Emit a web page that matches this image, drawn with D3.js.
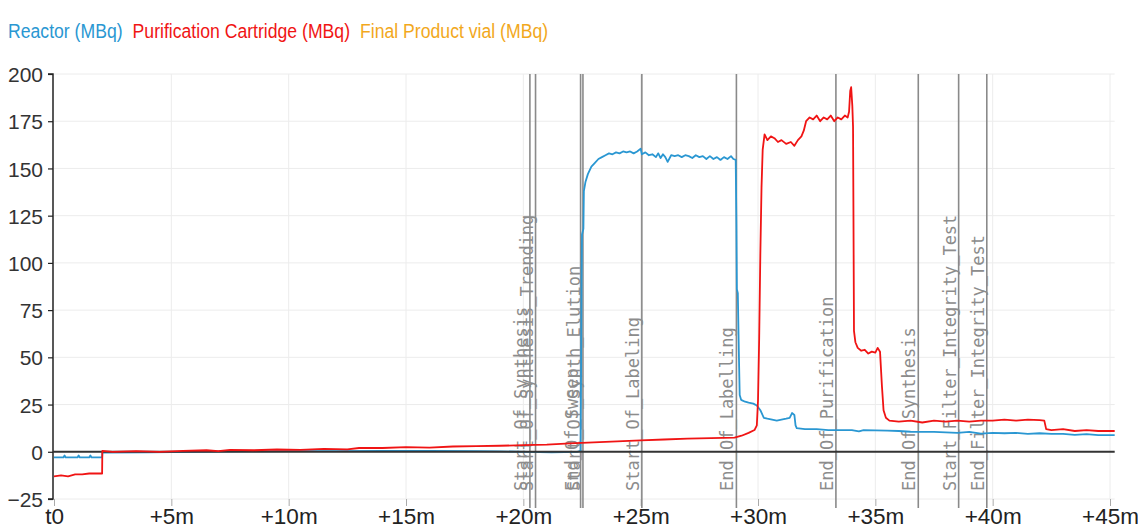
<!DOCTYPE html>
<html>
<head>
<meta charset="utf-8">
<script src="https://cdn.jsdelivr.net/npm/d3@7/dist/d3.min.js"></script>
<style>
html,body{margin:0;padding:0;background:#fff;}
svg{display:block;}
</style>
</head>
<body>
<svg id="chart" width="1138" height="528"></svg>
<script>
// ---------- data ----------
const seriesNames = ["Reactor (MBq)", "Purification Cartridge (MBq)", "Final Product vial (MBq)"];
const seriesColors = ["#2a97d2", "#f01414", "#f2a81c"];

const yTicks = [-25, 0, 25, 50, 75, 100, 125, 150, 175, 200];
const xTicks = [0, 5, 10, 15, 20, 25, 30, 35, 40, 45];
const xTickLabels = ["t0", "+5m", "+10m", "+15m", "+20m", "+25m", "+30m", "+35m", "+40m", "+45m"];

// events: [minutes, label]
const events = [
  [20.28, "Start_Of_Synthesis"],
  [20.52, "Start_Of_Synthesis_Trending"],
  [22.44, "End_Of_Sweep"],
  [22.54, "Start_Of_Synth_Elution"],
  [25.05, "Start_Of_Labeling"],
  [29.08, "End_Of_Labelling"],
  [33.32, "End_Of_Purification"],
  [36.83, "End_Of_Synthesis"],
  [38.55, "Start_Filter_Integrity_Test"],
  [39.75, "End_Filter_Integrity_Test"]
];

// Reactor (MBq): [minutes, MBq]
const reactor = [
  [0,-3],[0.4,-3],[0.45,-2],[0.5,-3],[1.0,-3],[1.05,-2],[1.1,-3],[1.5,-3],[1.55,-2],[1.6,-3],[2.05,-3],
  [2.06,-0.5],[4,-0.3],[6,0],[8,0.2],[10,0.3],[12,0.3],[14,0.5],[16,0.5],[18,0.3],[19,0.2],[20.2,0],[21.2,-0.3],[22.3,0],
  [22.44,0.5],[22.46,40],[22.48,90],[22.5,115],[22.56,118],[22.58,138],[22.65,143],[22.75,147],[22.9,151],[23.05,153],
  [23.2,155],[23.35,156],[23.5,157],[23.65,158],[23.8,157.5],[23.95,158.5],[24.1,158],[24.25,159],[24.4,158.5],[24.55,159],
  [24.7,158],[24.85,159],[25.0,160.5],[25.05,157.5],[25.2,158.5],[25.35,157],[25.5,157.5],[25.65,156],[25.75,158],[25.85,155.5],
  [25.95,157.5],[26.05,156],[26.15,153.5],[26.3,157],[26.45,156.5],[26.6,157],[26.75,156],[26.9,157],[27.05,156.5],[27.2,155.5],
  [27.35,157],[27.5,156],[27.65,156.5],[27.8,155],[27.95,156.5],[28.1,155],[28.25,156],[28.4,154.5],[28.55,156],[28.7,155],
  [28.85,156.5],[28.95,155],[29.05,154.5],[29.08,120],[29.1,86],[29.14,84],[29.18,55],[29.22,30],[29.28,27.5],[29.45,26.5],
  [29.6,26],[29.8,25.5],[29.95,24.5],[30.1,22],[30.25,18],[30.4,17.5],[30.6,17],[30.8,16.5],[31.0,17],[31.2,17.5],[31.35,18],
  [31.45,20.5],[31.55,19.5],[31.6,14],[31.65,12.5],[32.0,12],[32.5,12],[33.0,11.5],[33.5,11.5],[34.0,11.5],[34.3,10.8],[34.5,11.5],
  [35,11.3],[35.5,11.2],[36,11],[36.5,10.6],[37,10.5],[37.5,10.5],[38,10.3],[38.5,10],[39,10.5],[39.5,9.6],[40,10],[40.5,9.8],
  [41,10],[41.5,9.5],[42,9.8],[42.5,9.5],[43,9.5],[43.5,9],[44,9.3],[44.5,8.8],[45.2,8.8]
];

// Purification Cartridge (MBq): [minutes, MBq]
const cartridge = [
  [0,-13],[0.3,-12.5],[0.6,-13],[0.9,-12],[1.2,-12],[1.5,-11.5],[1.8,-11.5],[2.05,-11.5],
  [2.06,0.5],[2.5,0],[3.5,0.3],[4.5,0],[5.5,0.5],[6.5,0.8],[7,0.3],[7.5,1],[8.5,0.8],[9.5,1.2],[10.5,1],[11.5,1.5],[12.5,1.3],
  [13,2],[14,2],[15,2.5],[16,2.2],[17,2.8],[18,3],[19,3.2],[20,3.5],[21,3.8],[22,4.5],[23,5],[24,5.5],[25,6],[26,6.5],[27,7],
  [28,7.2],[29,7.5],[29.3,8.5],[29.6,10],[29.85,11.5],[29.95,14],[30.0,27],[30.05,60],[30.1,105],[30.15,140],[30.2,160],
  [30.28,168],[30.4,165],[30.55,167],[30.7,166],[30.85,164],[31.0,165],[31.2,163],[31.4,164],[31.55,162],[31.7,165],[31.85,167],
  [31.95,170],[32.05,175],[32.2,177],[32.35,176],[32.5,178],[32.65,175],[32.8,177],[32.95,176],[33.1,178],[33.25,175],[33.4,177],
  [33.55,176],[33.7,178],[33.82,177],[33.88,180],[33.93,191],[33.97,193],[34.02,183],[34.05,172],[34.07,120],[34.09,64],
  [34.15,58],[34.25,55],[34.4,53.5],[34.55,54],[34.7,52],[34.85,53],[35.0,52.5],[35.1,55],[35.2,53],[35.28,35],[35.35,22],
  [35.45,18],[35.6,16.5],[36,16],[36.5,16.5],[37,15.5],[37.5,16.5],[38,16],[38.5,16.5],[39,16],[39.5,16.5],[40,16.5],[40.5,17],
  [41,16.5],[41.5,17],[42,16.8],[42.2,16.5],[42.28,12],[42.5,11.5],[43,12],[43.5,11],[44,11.5],[44.5,11],[45.2,11]
];

// Final Product vial (MBq): no visible trace in the reference
const finalVial = [];

// ---------- drawing ----------
const svg = d3.select("#chart");
const x = d3.scaleLinear().domain([0, 45]).range([54, 1110]);
const y = d3.scaleLinear().domain([-25, 200]).range([499, 74]);
const xEnd = x(45.2);

// legend
const legend = svg.append("g");
let lx = 8;
seriesNames.forEach((name, i) => {
  const g = legend.append("g").attr("transform", `translate(${lx},38) scale(0.84,1)`);
  const t = g.append("text")
    .attr("font-family", "Liberation Sans, Arial, sans-serif")
    .attr("font-size", 21)
    .attr("fill", seriesColors[i])
    .text(name);
  const w = t.node().getComputedTextLength() * 0.84;
  lx += w + 10;
});

// grid
const grid = svg.append("g");
grid.selectAll("line.h").data(yTicks).enter().append("line")
  .attr("x1", x(0)).attr("x2", xEnd)
  .attr("y1", d => y(d)).attr("y2", d => y(d))
  .attr("stroke", "#ececec").attr("stroke-width", 1);
grid.selectAll("line.v").data(xTicks.slice(1)).enter().append("line")
  .attr("x1", d => x(d)).attr("x2", d => x(d))
  .attr("y1", y(200)).attr("y2", y(-25))
  .attr("stroke", "#ececec").attr("stroke-width", 1);

// y axis
const yAxis = d3.axisLeft(y).tickValues(yTicks).tickSize(5).tickPadding(5);
const yg = svg.append("g").attr("transform", `translate(${x(0) - 1},0)`).call(yAxis);
yg.select(".domain").attr("stroke", "#222").attr("stroke-width", 1.5).attr("d", `M-5,${y(200)}H0V${y(-25)}H-5`);
yg.selectAll(".tick line").attr("stroke", "#222").attr("stroke-width", 1.2);
yg.selectAll(".tick text")
  .attr("font-family", "Liberation Sans, Arial, sans-serif")
  .attr("font-size", 21).attr("fill", "#333").attr("dy", "0.36em");

// x axis (labels + small ticks)
const xAxis = d3.axisBottom(x).tickValues(xTicks).tickFormat((d, i) => xTickLabels[i]).tickSize(7).tickPadding(2);
const xg = svg.append("g").attr("transform", `translate(0,${y(-25)})`).call(xAxis);
xg.select(".domain").remove();
xg.selectAll(".tick line").attr("stroke", "#aaa").attr("stroke-width", 1);
xg.selectAll(".tick text")
  .attr("font-family", "Liberation Sans, Arial, sans-serif")
  .attr("font-size", 22.5).attr("fill", "#222").attr("dy", "0.72em");

// event lines and labels
const ev = svg.append("g");
ev.selectAll("line").data(events).enter().append("line")
  .attr("x1", d => x(d[0])).attr("x2", d => x(d[0]))
  .attr("y1", y(200)).attr("y2", y(-25) + 9)
  .attr("stroke", "#8a8a8a").attr("stroke-width", 1.6);
ev.selectAll("text").data(events).enter().append("text")
  .attr("transform", d => `translate(${x(d[0]) - 3},491) rotate(-90)`)
  .attr("font-family", "DejaVu Sans Mono, monospace")
  .attr("font-size", 17)
  .attr("fill", "#8c8c8c")
  .text(d => d[1]);

// series
const line = d3.line().x(d => x(d[0])).y(d => y(d[1]));
svg.append("path").datum(reactor).attr("d", line)
  .attr("fill", "none").attr("stroke", seriesColors[0]).attr("stroke-width", 1.8).attr("stroke-linejoin", "round");

// zero line
svg.append("line").attr("x1", x(0) - 1).attr("x2", xEnd).attr("y1", y(0)).attr("y2", y(0))
  .attr("stroke", "#333").attr("stroke-width", 2);

svg.append("path").datum(cartridge).attr("d", line)
  .attr("fill", "none").attr("stroke", seriesColors[1]).attr("stroke-width", 1.8).attr("stroke-linejoin", "round");
if (finalVial.length) {
  svg.append("path").datum(finalVial).attr("d", line)
    .attr("fill", "none").attr("stroke", seriesColors[2]).attr("stroke-width", 1.8);
}
</script>
</body>
</html>
